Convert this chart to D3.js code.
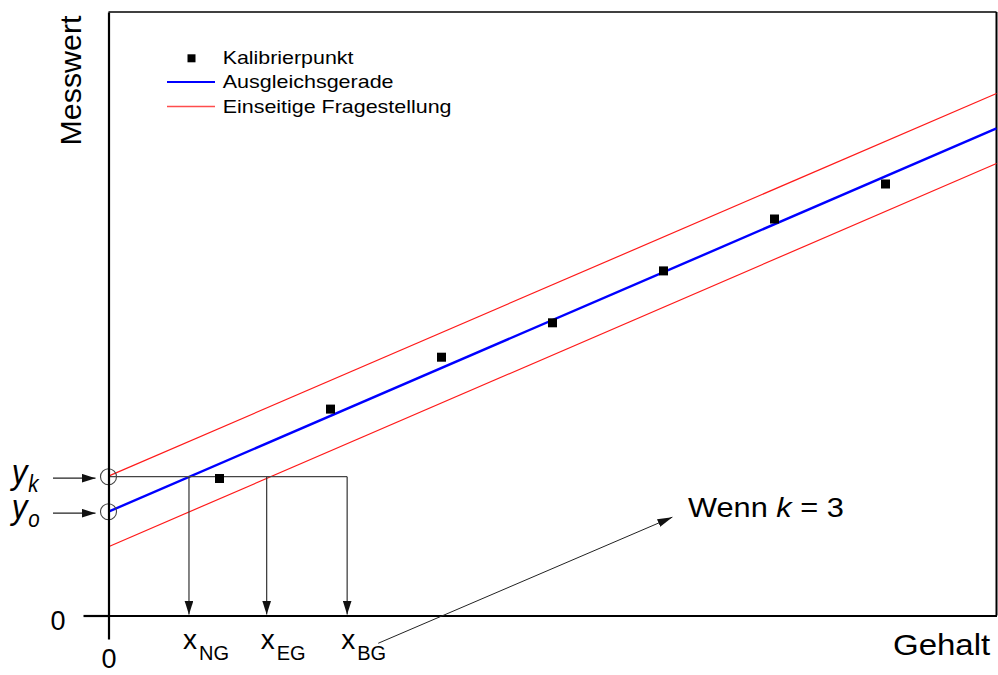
<!DOCTYPE html>
<html>
<head>
<meta charset="utf-8">
<script src="https://cdn.jsdelivr.net/npm/d3@7"></script>
<style>
  html, body { margin: 0; padding: 0; background: #fff; }
  svg { display: block; font-family: "Liberation Sans", Arial, sans-serif; }
</style>
</head>
<body>
<svg id="chart" width="998" height="675"></svg>
<script>
// Kalibriergerade mit einseitigem Prognoseband (Nachweis-, Erfassungs- und Bestimmungsgrenze)

// Achsen
const gehaltDomain = [0, 8];
const messwertDomain = [0, 10];
const gehaltTicks = [0];
const messwertTicks = [0];

// Kalibrierpunkte
const kalibGehalt = [1, 2, 3, 4, 5, 6, 7];
const kalibMesswert = [2.27, 3.42, 4.28, 4.85, 5.71, 6.57, 7.15];

// Ausgleichsgerade und Grenzen der einseitigen Fragestellung (Werte bei Gehalt 0 und 8)
const linienGehalt = [0, 8];
const ausgleichMesswert = [1.72, 8.07];
const obereGrenzeMesswert = [2.31, 8.65];
const untereGrenzeMesswert = [1.14, 7.49];

// Kennwerte auf der Messwertachse
const messwertLabels = ["k", "o"];
const messwertLevels = [2.30, 1.72];

// Grenzen auf der Gehaltsachse
const grenzenLabels = ["NG", "EG", "BG"];
const grenzenGehalt = [0.725, 1.425, 2.15];

// Hinweispfeil (Gehalt, Messwert)
const hinweisStart = [2.43, -0.46];
const hinweisEnde = [5.08, 1.63];

const legendLabels = ["Kalibrierpunkt", "Ausgleichsgerade", "Einseitige Fragestellung"];

const svg = d3.select("#chart");
const x = d3.scaleLinear().domain(gehaltDomain).range([108.5, 996.5]);
const y = d3.scaleLinear().domain(messwertDomain).range([615.5, 12]);

// Pfeilspitzen
const defs = svg.append("defs");
function arrowMarker(id, len, wid, color) {
  defs.append("marker")
    .attr("id", id)
    .attr("markerUnits", "userSpaceOnUse")
    .attr("viewBox", `0 0 ${len} ${wid}`)
    .attr("refX", len).attr("refY", wid / 2)
    .attr("markerWidth", len).attr("markerHeight", wid)
    .attr("orient", "auto")
    .append("path")
    .attr("d", `M0,0 L${len},${wid / 2} L0,${wid} Z`)
    .attr("fill", color);
}
arrowMarker("pfeil", 14, 9, "#111");
arrowMarker("pfeilKlein", 15, 8, "#111");

// Breite eines Textes auf Sollbreite ziehen
function stretch(sel, target) {
  const node = sel.node();
  const bb = node.getBBox();
  const s = target / bb.width;
  const x0 = bb.x;
  sel.attr("transform", `translate(${x0},0) scale(${s},1) translate(${-x0},0)`);
}

// Rahmen oben und rechts
svg.append("line")
  .attr("x1", x(gehaltDomain[0])).attr("x2", x(gehaltDomain[1]))
  .attr("y1", y(messwertDomain[1])).attr("y2", y(messwertDomain[1]))
  .attr("stroke", "#000").attr("stroke-width", 1.6);
svg.append("line")
  .attr("x1", x(gehaltDomain[1])).attr("x2", x(gehaltDomain[1]))
  .attr("y1", y(messwertDomain[1])).attr("y2", y(0))
  .attr("stroke", "#000").attr("stroke-width", 2);

// Linien
const line = d3.line().x(d => x(d[0])).y(d => y(d[1]));
const zip = (a, b) => a.map((v, i) => [v, b[i]]);

svg.append("path").datum(zip(linienGehalt, obereGrenzeMesswert))
  .attr("d", line).attr("fill", "none").attr("stroke", "#ff1a1a").attr("stroke-width", 1.2);
svg.append("path").datum(zip(linienGehalt, untereGrenzeMesswert))
  .attr("d", line).attr("fill", "none").attr("stroke", "#ff1a1a").attr("stroke-width", 1.2);
svg.append("path").datum(zip(linienGehalt, ausgleichMesswert))
  .attr("d", line).attr("fill", "none").attr("stroke", "#0000ff").attr("stroke-width", 2.4);

// Hilfslinien: waagerecht bei y_k bis x_BG, senkrecht zu den Grenzen
const yk = messwertLevels[0];
svg.append("line")
  .attr("x1", x(0)).attr("x2", x(d3.max(grenzenGehalt)))
  .attr("y1", y(yk)).attr("y2", y(yk))
  .attr("stroke", "#444").attr("stroke-width", 1.2);
svg.selectAll(".drop").data(grenzenGehalt).join("line")
  .attr("class", "drop")
  .attr("x1", d => x(d)).attr("x2", d => x(d))
  .attr("y1", y(yk)).attr("y2", y(0) - 1)
  .attr("stroke", "#333").attr("stroke-width", 1.2)
  .attr("marker-end", "url(#pfeil)");

// Kalibrierpunkte
svg.selectAll(".punkt").data(zip(kalibGehalt, kalibMesswert)).join("rect")
  .attr("class", "punkt")
  .attr("x", d => x(d[0]) - 4.5).attr("y", d => y(d[1]) - 4.5)
  .attr("width", 9).attr("height", 9).attr("fill", "#000");

// Kreise auf der Messwertachse
svg.selectAll(".kreis").data(messwertLevels).join("circle")
  .attr("class", "kreis")
  .attr("cx", x(0)).attr("cy", d => y(d)).attr("r", 8)
  .attr("fill", "none").attr("stroke", "#444").attr("stroke-width", 1.1);

// Achsen
const xAxis = svg.append("g")
  .attr("transform", `translate(0,${y(0)})`)
  .call(d3.axisBottom(x).tickValues(gehaltTicks).tickFormat(d3.format("d"))
    .tickSizeInner(24).tickSizeOuter(0).tickPadding(11));
const yAxis = svg.append("g")
  .attr("transform", `translate(${x(0)},0)`)
  .call(d3.axisLeft(y).tickValues(messwertTicks).tickFormat(d3.format("d"))
    .tickSizeInner(25).tickSizeOuter(0).tickPadding(18));
[xAxis, yAxis].forEach(g => {
  g.select(".domain").attr("stroke", "#000").attr("stroke-width", 2.2);
  g.selectAll(".tick line").attr("stroke", "#000").attr("stroke-width", 2.2);
  g.selectAll(".tick text").attr("fill", "#000")
    .style("font-family", "'Liberation Sans', Arial, sans-serif").style("font-size", "27px");
});
yAxis.selectAll(".tick text").attr("dy", "0.52em");
xAxis.selectAll(".tick text").attr("dy", "0.66em");

// Pfeile zu y_k und y_o
svg.selectAll(".ypfeil").data(messwertLevels).join("line")
  .attr("class", "ypfeil")
  .attr("x1", 53).attr("x2", x(0) - 13)
  .attr("y1", d => y(d) + 1.5).attr("y2", d => y(d) + 1.5)
  .attr("stroke", "#222").attr("stroke-width", 1.3)
  .attr("marker-end", "url(#pfeil)");

// Beschriftungen y_k und y_o
messwertLabels.forEach((lab, i) => {
  const t = svg.append("text")
    .attr("x", 12).attr("y", y(messwertLevels[i]) + 7)
    .attr("font-style", "italic").attr("fill", "#000");
  t.append("tspan").attr("font-size", 35).text("y");
  t.append("tspan").attr("font-size", 23).attr("dx", 1).attr("dy", 8).text(lab);
  stretch(t, 30);
});

// Beschriftungen x_NG, x_EG, x_BG
grenzenLabels.forEach((lab, i) => {
  const t = svg.append("text")
    .attr("x", x(grenzenGehalt[i]) - 6).attr("y", 648.5).attr("fill", "#000");
  t.append("tspan").attr("font-size", 28).text("x");
  t.append("tspan").attr("font-size", 20).attr("dx", 2).attr("dy", 11).text(lab);
});

// Hinweis "Wenn k = 3"
svg.append("line")
  .attr("x1", x(hinweisStart[0])).attr("y1", y(hinweisStart[1]))
  .attr("x2", x(hinweisEnde[0])).attr("y2", y(hinweisEnde[1]))
  .attr("stroke", "#222").attr("stroke-width", 1)
  .attr("marker-end", "url(#pfeilKlein)");
const wenn = svg.append("text").attr("x", 688).attr("y", 517).attr("font-size", 28).attr("fill", "#000");
wenn.append("tspan").text("Wenn ");
wenn.append("tspan").attr("font-style", "italic").text("k");
wenn.append("tspan").text(" = 3");
stretch(wenn, 156);

// Achsentitel
const gehalt = svg.append("text").attr("x", 893).attr("y", 655).attr("font-size", 30).attr("fill", "#000").text("Gehalt");
stretch(gehalt, 98);
svg.append("text")
  .attr("transform", "translate(80.5,145.5) rotate(-90)")
  .attr("font-size", 29).attr("fill", "#000")
  .attr("textLength", 130).attr("lengthAdjust", "spacingAndGlyphs")
  .text("Messwert");

// Legende
const legend = svg.append("g");
const legendY = [58.3, 82, 106.5];
const legendWidths = [131, 171, 229];
legend.append("rect").attr("x", 187.5).attr("y", legendY[0] - 4).attr("width", 8).attr("height", 8).attr("fill", "#000");
legend.append("line").attr("x1", 167).attr("x2", 215).attr("y1", legendY[1]).attr("y2", legendY[1])
  .attr("stroke", "#0000ff").attr("stroke-width", 2.2);
legend.append("line").attr("x1", 167).attr("x2", 215).attr("y1", legendY[2]).attr("y2", legendY[2])
  .attr("stroke", "#ff4d4d").attr("stroke-width", 1.3);
legendLabels.forEach((lab, i) => {
  const t = legend.append("text").attr("x", 222.7).attr("y", legendY[i] + 6.2)
    .attr("font-size", 17.5).attr("fill", "#000").text(lab);
  stretch(t, legendWidths[i]);
});
</script>
</body>
</html>
